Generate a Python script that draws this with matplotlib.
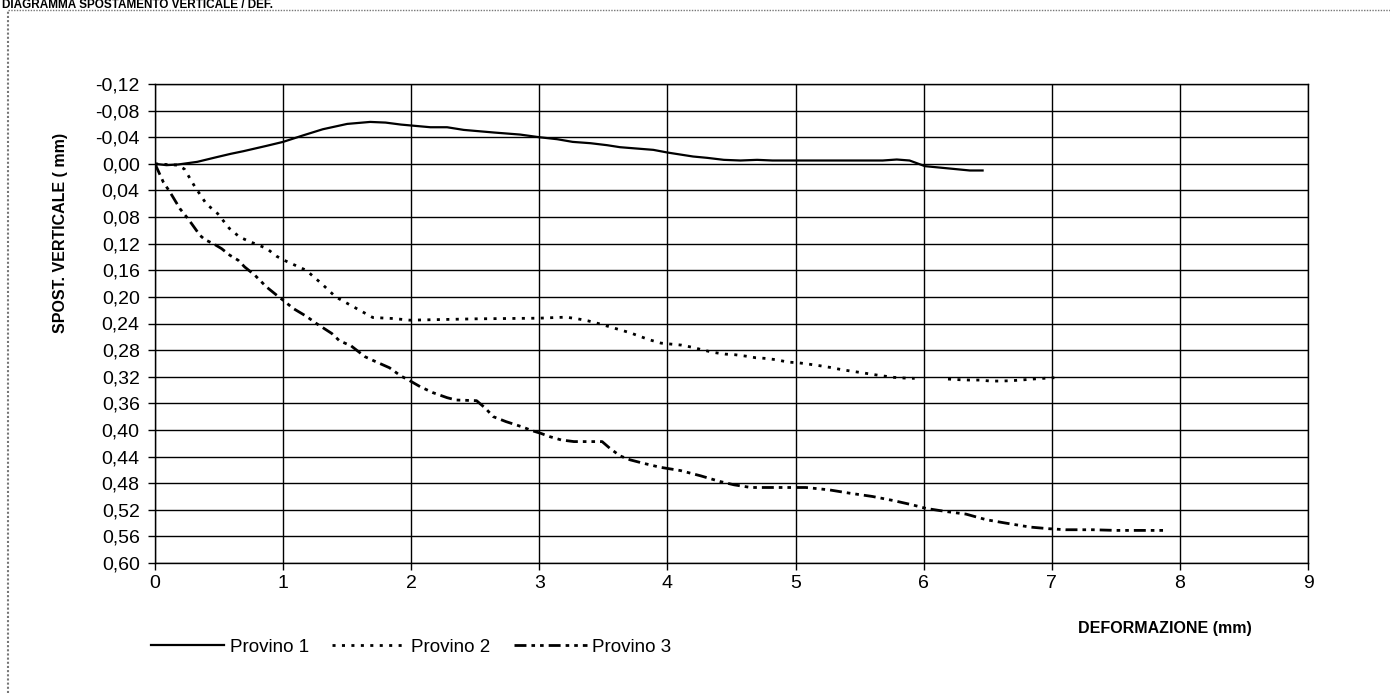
import numpy as np
import matplotlib
matplotlib.use("Agg")
import matplotlib.pyplot as plt
from matplotlib.lines import Line2D
from matplotlib.ticker import FuncFormatter

plt.rcParams['font.family'] = ['Liberation Sans', 'DejaVu Sans']

# ---- data ----
x1 = [0, 0.09, 0.18, 0.33, 0.48, 0.59, 0.69, 0.87, 1.00, 1.16,
      1.31, 1.50, 1.68, 1.80, 1.92, 2.15, 2.28, 2.41, 2.65, 2.85,
      3.00, 3.14, 3.26, 3.40, 3.53, 3.63, 3.76, 3.89, 4.00, 4.10,
      4.20, 4.31, 4.44, 4.57, 4.70, 4.82, 5.00, 5.18, 5.40, 5.68,
      5.79, 5.89, 6.01, 6.20, 6.36, 6.46]
y1 = [0, 0.002, 0.001, -0.003, -0.010, -0.015, -0.019, -0.027, -0.033, -0.043,
      -0.052, -0.060, -0.063, -0.062, -0.059, -0.055, -0.055, -0.051, -0.047, -0.044,
      -0.040, -0.037, -0.033, -0.031, -0.028, -0.025, -0.023, -0.021, -0.017, -0.014,
      -0.011, -0.009, -0.006, -0.005, -0.006, -0.005, -0.005, -0.005, -0.005, -0.005,
      -0.0065, -0.005, 0.0035, 0.007, 0.010, 0.010]

x2 = [0, 0.09, 0.18, 0.23, 0.31, 0.40, 0.49, 0.58, 0.66, 0.74,
      0.87, 0.95, 1.02, 1.18, 1.30, 1.41, 1.55, 1.70, 1.86, 1.99,
      2.5, 3.0, 3.13, 3.21, 3.30, 3.38, 3.46, 3.55, 3.63, 3.71,
      3.78, 3.86, 3.95, 4.03, 4.11, 4.20, 4.27, 4.36, 4.45, 4.53,
      4.61, 4.69, 4.77, 4.85, 4.94, 5.02, 5.10, 5.19, 5.27, 5.35,
      5.43, 5.52, 5.60, 5.69, 5.77, 5.85, 5.93, 6.06, 6.19, 6.28,
      6.36, 6.44, 6.52, 6.60, 6.68, 6.76, 6.85, 6.93, 7.02]
y2 = [0, 0.001, 0.002, 0.008, 0.034, 0.060, 0.075, 0.097, 0.110, 0.117,
      0.127, 0.139, 0.146, 0.160, 0.180, 0.200, 0.215, 0.231, 0.2325, 0.235,
      0.233, 0.232, 0.231, 0.2305, 0.233, 0.236, 0.240, 0.245, 0.2495, 0.254,
      0.259, 0.2645, 0.2695, 0.271, 0.2725, 0.276, 0.2795, 0.2835, 0.286, 0.287,
      0.289, 0.2915, 0.2925, 0.2945, 0.298, 0.299, 0.301, 0.3035, 0.306, 0.309,
      0.3115, 0.314, 0.3165, 0.319, 0.321, 0.322, 0.3225, np.nan, 0.3235, 0.3245,
      0.325, 0.325, 0.3265, 0.3265, 0.326, 0.325, 0.3235, 0.3225, 0.3215]

x3 = [0, 0.065, 0.117, 0.195, 0.247, 0.286, 0.351, 0.39, 0.455, 0.52,
      0.585, 0.65, 0.70, 0.78, 0.87, 0.95, 1.00, 1.08, 1.18, 1.26,
      1.38, 1.44, 1.53, 1.64, 1.73, 1.83, 1.92, 1.98, 2.07, 2.17,
      2.28, 2.35, 2.51, 2.58, 2.64, 2.74, 2.86, 2.95, 3.01, 3.08,
      3.17, 3.27, 3.49, 3.55, 3.63, 3.71, 3.81, 3.94, 4.10, 4.26,
      4.41, 4.52, 4.65, 4.77, 4.98, 5.08, 5.26, 5.42, 5.60, 5.76,
      5.91, 6.02, 6.17, 6.33, 6.49, 6.64, 6.83, 6.98, 7.11, 7.32,
      7.50, 7.87]
y3 = [0, 0.0275, 0.0425, 0.0675, 0.08, 0.09, 0.1075, 0.114, 0.12, 0.1275,
      0.1375, 0.145, 0.155, 0.1675, 0.185, 0.1975, 0.205, 0.2175, 0.229, 0.24,
      0.255, 0.266, 0.2735, 0.29, 0.298, 0.3065, 0.319, 0.325, 0.335, 0.344,
      0.3515, 0.355, 0.356, 0.3675, 0.38, 0.3875, 0.395, 0.4015, 0.405, 0.41,
      0.415, 0.4175, 0.4175, 0.4275, 0.439, 0.445, 0.45, 0.456, 0.461, 0.469,
      0.4775, 0.4825, 0.4865, 0.4865, 0.4865, 0.4865, 0.49, 0.495, 0.50, 0.506,
      0.5125, 0.518, 0.5225, 0.5265, 0.535, 0.54, 0.546, 0.5485, 0.55, 0.55,
      0.551, 0.551]

series_names = ["Provino 1", "Provino 2", "Provino 3"]
x_ticks = list(range(0, 10))
y_ticks = [-0.12, -0.08, -0.04, 0.00, 0.04, 0.08, 0.12, 0.16, 0.20, 0.24,
           0.28, 0.32, 0.36, 0.40, 0.44, 0.48, 0.52, 0.56, 0.60]

title = "DIAGRAMMA SPOSTAMENTO VERTICALE / DEF."
x_label = "DEFORMAZIONE (mm)"
y_label = "SPOST. VERTICALE ( mm)"

# ---- figure ----
W, H = 1390, 693
fig = plt.figure(figsize=(W / 100, H / 100), dpi=100)
ax = fig.add_axes([155 / W, 1 - 563 / H, (1308 - 155) / W, (563 - 84) / H])

ls2 = (0, (1.1, 2.3))
ls3 = (0, (4.3, 1.8, 1.3, 1.8, 1.3, 1.8))

ax.plot(x1, y1, color='black', lw=1.6, solid_joinstyle='round', label=series_names[0])
ax.plot(x2, y2, color='black', lw=2.0, linestyle=ls2, label=series_names[1])
ax.plot(x3, y3, color='black', lw=2.0, linestyle=ls3, label=series_names[2])

ax.set_xlim(0, 9)
ax.set_ylim(0.60, -0.12)
ax.set_xticks(x_ticks)
ax.set_yticks(y_ticks)


def fmt_y(v, pos):
    if abs(v) < 1e-9:
        v = 0.0
    return f"{v:.2f}".replace('.', ',')


ax.yaxis.set_major_formatter(FuncFormatter(fmt_y))
ax.grid(True, color='black', lw=1.0)
ax.set_axisbelow(True)
for s in ax.spines.values():
    s.set_color('black')
    s.set_linewidth(1.0)
ax.tick_params(axis='both', direction='out', length=5, width=1, color='black',
               labelsize=14)
ax.tick_params(axis='y', pad=6)
ax.tick_params(axis='x', pad=4)

ax.set_ylabel(y_label, fontsize=11.5, fontweight='bold')
ax.yaxis.set_label_coords((68 - 155) / (1308 - 155), 1 - (233 - 84) / (563 - 84))
fig.text(1165 / W, 1 - 628 / H, x_label, fontsize=11.5, fontweight='bold',
         ha='center', va='center')

fig.text(2 / W, 1 - 7.5 / H, title, fontsize=8.5, fontweight='bold',
         ha='left', va='baseline')

# frame
fig.add_artist(Line2D([8 / W, 1.0], [1 - 9.5 / H, 1 - 9.5 / H], transform=fig.transFigure,
                      color='#777777', lw=1.0, linestyle=(0, (1, 1))))
fig.add_artist(Line2D([8 / W, 8 / W], [0.0, 1 - 9.5 / H], transform=fig.transFigure,
                      color='#777777', lw=1.5, linestyle=(0, (1, 1))))

handles = [
    Line2D([], [], color='black', lw=1.6),
    Line2D([], [], color='black', lw=2.0, linestyle=ls2),
    Line2D([], [], color='black', lw=2.0, linestyle=ls3),
]
fig.legend(handles, series_names, loc='center left',
           bbox_to_anchor=(151 / W, 1 - 647 / H), ncol=3, frameon=False,
           fontsize=13.5, handlelength=3.9, handletextpad=0.3, columnspacing=1.25,
           borderaxespad=0, borderpad=0)

fig.savefig("out.png", dpi=100)
